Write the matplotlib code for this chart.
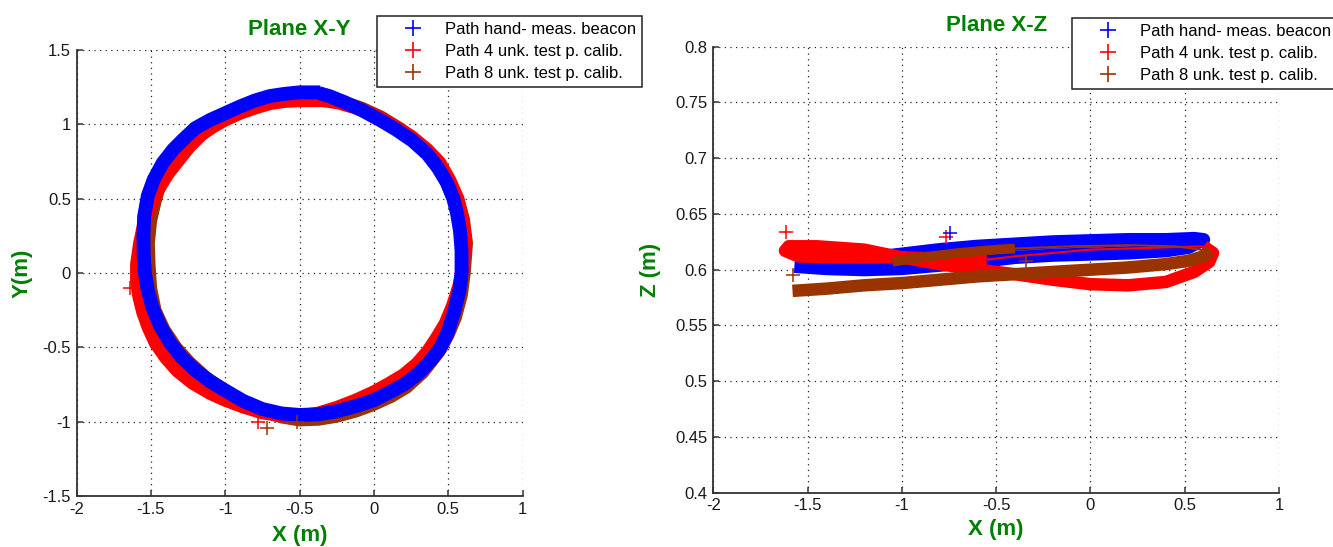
import matplotlib
matplotlib.use("Agg")
import matplotlib.pyplot as plt
from matplotlib.lines import Line2D
from matplotlib.ticker import FuncFormatter

# ---- data (metres) ----
labels = ["Path hand- meas. beacon", "Path 4 unk. test p. calib.", "Path 8 unk. test p. calib."]
colors = ["#0000FF", "#FF0000", "#993300"]

# plane X-Y
blue_xy_x = [-0.36, -0.50, -0.60, -0.70, -0.80, -0.90, -1.00, -1.10, -1.20, -1.28, -1.35, -1.42,
             -1.48, -1.52, -1.545, -1.55, -1.548, -1.54, -1.52, -1.49, -1.44, -1.37, -1.29, -1.20,
             -1.10, -1.00, -0.88, -0.75, -0.62, -0.50, -0.37, -0.25, -0.12, 0.00, 0.11, 0.21,
             0.30, 0.38, 0.45, 0.50, 0.54, 0.575, 0.59, 0.59, 0.58, 0.56, 0.535, 0.49,
             0.43, 0.36, 0.26, 0.15, 0.04, -0.08, -0.20, -0.30, -0.37]
blue_xy_y = [1.215, 1.215, 1.205, 1.19, 1.16, 1.12, 1.075, 1.03, 0.975, 0.90, 0.83, 0.74,
             0.63, 0.52, 0.38, 0.25, 0.12, 0.00, -0.12, -0.23, -0.35, -0.47, -0.57, -0.655,
             -0.73, -0.79, -0.86, -0.915, -0.945, -0.955, -0.95, -0.93, -0.895, -0.855, -0.80, -0.745,
             -0.675, -0.59, -0.50, -0.39, -0.26, -0.12, 0.00, 0.15, 0.28, 0.40, 0.50, 0.61,
             0.71, 0.80, 0.89, 0.965, 1.03, 1.095, 1.15, 1.19, 1.21]

red_xy_x = [-0.34, -0.50, -0.60, -0.70, -0.80, -0.90, -1.00, -1.08, -1.16, -1.24, -1.32, -1.39,
            -1.45, -1.50, -1.545, -1.575, -1.595, -1.595, -1.58, -1.555, -1.52, -1.47, -1.40, -1.32,
            -1.22, -1.10, -1.00, -0.88, -0.75, -0.62, -0.50, -0.38, -0.25, -0.12, 0.00, 0.10,
            0.20, 0.29, 0.36, 0.42, 0.48, 0.53, 0.575, 0.60, 0.615, 0.60, 0.565, 0.51,
            0.445, 0.36, 0.25, 0.12, 0.00, -0.12, -0.24, -0.34]
red_xy_y = [1.16, 1.16, 1.155, 1.14, 1.11, 1.075, 1.03, 0.985, 0.93, 0.85, 0.75, 0.66,
            0.56, 0.46, 0.34, 0.20, 0.06, -0.06, -0.16, -0.26, -0.36, -0.47, -0.57, -0.66,
            -0.74, -0.81, -0.855, -0.90, -0.94, -0.96, -0.96, -0.945, -0.905, -0.855, -0.80, -0.745,
            -0.685, -0.61, -0.53, -0.44, -0.34, -0.22, -0.08, 0.05, 0.20, 0.35, 0.50, 0.625,
            0.74, 0.83, 0.92, 1.00, 1.065, 1.11, 1.145, 1.16]

brown_xy_x = [-0.40, -0.60, -0.75, -0.90, -1.05, -1.17, -1.28, -1.37, -1.43, -1.47, -1.50, -1.515,
              -1.51, -1.50, -1.47, -1.41, -1.33, -1.24, -1.13, -1.00, -0.88, -0.75, -0.62, -0.50,
              -0.37, -0.25, -0.12, 0.00, 0.12, 0.22, 0.33, 0.44, 0.50, 0.55, 0.59, 0.61,
              0.625, 0.605, 0.565, 0.50, 0.42, 0.30, 0.18, 0.05, -0.08, -0.20, -0.40]
brown_xy_y = [1.17, 1.165, 1.14, 1.10, 1.03, 0.95, 0.84, 0.73, 0.62, 0.48, 0.35, 0.20,
              0.05, -0.10, -0.25, -0.38, -0.50, -0.60, -0.70, -0.79, -0.87, -0.93, -0.97, -0.99,
              -0.985, -0.965, -0.93, -0.885, -0.83, -0.77, -0.67, -0.53, -0.42, -0.30, -0.15, 0.00,
              0.20, 0.36, 0.50, 0.63, 0.77, 0.88, 0.97, 1.05, 1.11, 1.15, 1.17]

red_xy_out_x = [-1.64, -0.78]
red_xy_out_y = [-0.10, -1.00]
brown_xy_out_x = [-0.72, -0.52]
brown_xy_out_y = [-1.04, -1.00]

# plane X-Z
blue_xz_x = [-1.57, -1.40, -1.20, -1.00, -0.80, -0.60, -0.40, -0.20, 0.00, 0.20, 0.40, 0.52,
             0.60, 0.55, 0.40, 0.20, 0.00, -0.20, -0.40, -0.60, -0.80, -1.00, -1.10]
blue_xz_z = [0.603, 0.601, 0.600, 0.601, 0.604, 0.607, 0.611, 0.613, 0.614, 0.615, 0.617, 0.620,
             0.627, 0.628, 0.627, 0.627, 0.626, 0.625, 0.623, 0.621, 0.618, 0.614, 0.612]

red_xz_x = [-0.55, -0.80, -1.00, -1.20, -1.40, -1.55, -1.62, -1.60, -1.45, -1.20, -1.00, -0.80,
            -0.60, -0.40, -0.20, 0.00, 0.20, 0.40, 0.55, 0.63, 0.65, 0.60]
red_xz_z = [0.609, 0.610, 0.611, 0.611, 0.611, 0.612, 0.617, 0.621, 0.621, 0.618, 0.611, 0.605,
            0.600, 0.596, 0.591, 0.587, 0.586, 0.589, 0.598, 0.607, 0.615, 0.621]
red_xz_ret_x = [0.60, 0.40, 0.20, 0.00, -0.20, -0.40, -0.55]
red_xz_ret_z = [0.621, 0.620, 0.619, 0.618, 0.615, 0.612, 0.609]

brown_xz_x = [-1.58, -1.40, -1.20, -1.00, -0.80, -0.60, -0.40, -0.20, 0.00, 0.20, 0.40, 0.52,
              0.60, 0.635]
brown_xz_z = [0.581, 0.583, 0.586, 0.588, 0.591, 0.594, 0.596, 0.598, 0.600, 0.602, 0.605, 0.608,
              0.612, 0.617]
brown_xz_up_x = [-1.05, -0.90, -0.70, -0.50, -0.40]
brown_xz_up_z = [0.607, 0.611, 0.615, 0.618, 0.619]
brown_xz_thin_x = [-0.40, -0.10, 0.20, 0.45, 0.63]
brown_xz_thin_z = [0.619, 0.621, 0.622, 0.621, 0.617]

red_xz_out_x = [-1.612, -0.767]
red_xz_out_z = [0.634, 0.629]
blue_xz_out_x = [-0.745]
blue_xz_out_z = [0.633]
brown_xz_out_x = [-1.575, -0.343]
brown_xz_out_z = [0.595, 0.608]

xy_xticks = [-2, -1.5, -1, -0.5, 0, 0.5, 1]
xy_yticks = [-1.5, -1, -0.5, 0, 0.5, 1, 1.5]
xz_xticks = [-2, -1.5, -1, -0.5, 0, 0.5, 1]
xz_yticks = [0.4, 0.45, 0.5, 0.55, 0.6, 0.65, 0.7, 0.75, 0.8]

# ---- style ----
plt.rcParams["font.family"] = ["Liberation Sans", "DejaVu Sans"]
plt.rcParams["axes.unicode_minus"] = False
GREEN = "#008000"
AXC = "#333333"

fig = plt.figure(figsize=(13.33, 5.47), dpi=100)
ax1 = fig.add_axes([76.5 / 1333, 51 / 547, 446 / 1333, 446 / 547])
ax2 = fig.add_axes([713.3 / 1333, 54.3 / 547, 565.7 / 1333, 446 / 547])


def style_axes(ax, xt, yt):
    ax.set_xticks(xt)
    ax.set_yticks(yt)
    ax.set_xlim(xt[0], xt[-1])
    ax.set_ylim(yt[0], yt[-1])
    fmt = FuncFormatter(lambda v, p: "{:g}".format(round(v, 4)))
    ax.xaxis.set_major_formatter(fmt)
    ax.yaxis.set_major_formatter(fmt)
    for s in ["top", "right"]:
        ax.spines[s].set_visible(False)
    for s in ["left", "bottom"]:
        ax.spines[s].set_color(AXC)
        ax.spines[s].set_linewidth(1.3)
    ax.tick_params(direction="in", length=4.5, width=1.1, color=AXC,
                   labelsize=12, labelcolor="#1a1a1a")
    ax.tick_params(axis="x", pad=4)
    ax.tick_params(axis="y", pad=4)
    ax.set_axisbelow(True)
    ax.grid(True, color="#222222", linestyle=(0, (1, 3.5)), linewidth=0.9)


def band(ax, x, y, c, lw, z):
    ax.plot(x, y, "-", color=c, lw=lw, solid_joinstyle="round",
            solid_capstyle="butt", zorder=z)


def outliers(ax, x, y, c):
    ax.plot(x, y, "+", color=c, markersize=10, mew=1.1, ls="none", zorder=6)


# ---- Plane X-Y ----
style_axes(ax1, xy_xticks, xy_yticks)
band(ax1, brown_xy_x, brown_xy_y, colors[2], 9.0, 2)
band(ax1, red_xy_x, red_xy_y, colors[1], 9.5, 3)
band(ax1, blue_xy_x, blue_xy_y, colors[0], 10.0, 4)
outliers(ax1, red_xy_out_x, red_xy_out_y, colors[1])
outliers(ax1, brown_xy_out_x, brown_xy_out_y, colors[2])
ax1.set_title("Plane X-Y", color=GREEN, fontsize=16, fontweight="bold", pad=11)
ax1.set_xlabel("X (m)", color=GREEN, fontsize=16, fontweight="bold")
ax1.set_ylabel("Y(m)", color=GREEN, fontsize=16, fontweight="bold")
ax1.xaxis.set_label_coords(0.5, -0.064)
ax1.yaxis.set_label_coords(-0.099, 0.5)

# ---- Plane X-Z ----
style_axes(ax2, xz_xticks, xz_yticks)
band(ax2, blue_xz_x, blue_xz_z, colors[0], 9.5, 2)
band(ax2, red_xz_x, red_xz_z, colors[1], 9.0, 3)
band(ax2, red_xz_ret_x, red_xz_ret_z, colors[1], 1.5, 3)
band(ax2, brown_xz_x, brown_xz_z, colors[2], 9.0, 4)
band(ax2, brown_xz_up_x, brown_xz_up_z, colors[2], 7.0, 4)
band(ax2, brown_xz_thin_x, brown_xz_thin_z, colors[2], 1.5, 4)
outliers(ax2, red_xz_out_x, red_xz_out_z, colors[1])
outliers(ax2, blue_xz_out_x, blue_xz_out_z, colors[0])
outliers(ax2, brown_xz_out_x, brown_xz_out_z, colors[2])
ax2.set_title("Plane X-Z", color=GREEN, fontsize=16, fontweight="bold", pad=11)
ax2.set_xlabel("X (m)", color=GREEN, fontsize=16, fontweight="bold")
ax2.set_ylabel("Z (m)", color=GREEN, fontsize=16, fontweight="bold")
ax2.xaxis.set_label_coords(0.5, -0.058)
ax2.yaxis.set_label_coords(-0.0925, 0.5)

# ---- legends (MATLAB style boxes) ----
handles = [Line2D([], [], marker="+", ls="none", color=c, markersize=11, mew=1.2) for c in colors]
for ax, (lx, ly) in [(ax1, (377, 16)), (ax2, (1072, 18))]:
    leg = ax.legend(handles, labels, loc="upper left",
                    bbox_to_anchor=(lx / 1333, 1 - ly / 547), bbox_transform=fig.transFigure,
                    borderaxespad=0, fontsize=12, fancybox=False, framealpha=1,
                    edgecolor="#222222", borderpad=0.35, labelspacing=0.42,
                    handlelength=3.6, handletextpad=0.15)
    leg.get_frame().set_linewidth(1.1)
    leg.set_zorder(10)

fig.savefig("out.png", dpi=100, facecolor="white")
